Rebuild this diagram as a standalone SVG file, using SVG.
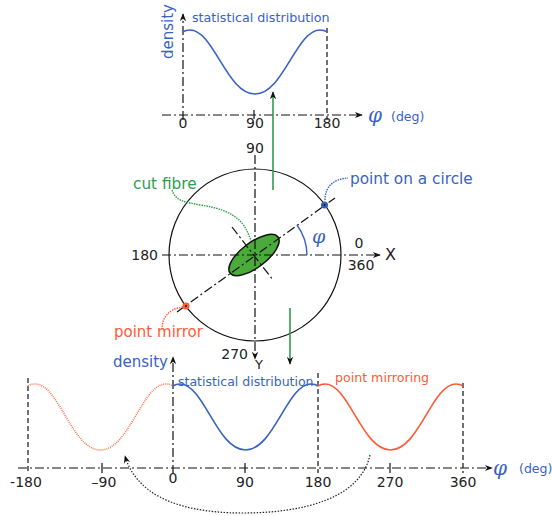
<svg xmlns="http://www.w3.org/2000/svg" width="552" height="516" viewBox="0 0 552 516">
<style>
text{font-family:"DejaVu Sans","Liberation Sans",sans-serif;}
.ax{stroke:#111;stroke-width:1.2;fill:none;stroke-dasharray:9 3 2 3;}
.dash{stroke:#111;stroke-width:1.2;fill:none;stroke-dasharray:5 3;}
.tick{stroke:#111;stroke-width:1.2;}
.lbl{font-size:14px;fill:#222;}
.blue{fill:#3a62c4;}
.red{fill:#ff5a36;}
.green{fill:#2e9e4e;}
.phi{font-family:"DejaVu Serif",serif;font-style:italic;fill:#3a62c4;}
.cb{stroke:#3a62c4;stroke-width:1.6;fill:none;}
.cr{stroke:#ff5a36;stroke-width:1.6;fill:none;}
.cd{stroke:#ff7a56;stroke-width:1.6;fill:none;stroke-dasharray:1 1;}
</style>
<defs>
<marker id="ah" viewBox="0 0 10 10" refX="9" refY="5" markerWidth="8" markerHeight="8" orient="auto" markerUnits="userSpaceOnUse">
<path d="M0,1 L10,5 L0,9 L3,5 Z" fill="#111"/>
</marker>
<path id="wave" d="M0,2 C2,0.5 4,0 7,0 C31,0 44,66 72.5,66 C101,66 114,0 138,0 C141,0 143,0.5 145,2"/>
</defs>

<g id="top-chart">
<line class="ax" x1="162" y1="115" x2="362" y2="115" marker-end="url(#ah)"/>
<line class="ax" x1="183" y1="120" x2="183" y2="14" marker-end="url(#ah)"/>
<line class="dash" x1="327" y1="28" x2="327" y2="120"/>
<line class="tick" x1="254" y1="110" x2="254" y2="119"/>
<use href="#wave" class="cb" transform="translate(183,30) scale(0.993,0.97)"/>
<text x="192" y="22" class="blue" font-size="12.7">statistical distribution</text>
<text transform="translate(173,59) rotate(-90)" class="blue" font-size="15">density</text>
<text x="368" y="122" class="phi" font-size="20">φ</text>
<text x="391" y="121" class="blue" font-size="12.5">(deg)</text>
<text x="183" y="128" class="lbl" text-anchor="middle">0</text>
<text x="255" y="128" class="lbl" text-anchor="middle">90</text>
<text x="327" y="128" class="lbl" text-anchor="middle">180</text>
</g>

<g id="circle">
<circle cx="255" cy="255" r="86" fill="none" stroke="#111" stroke-width="1.2"/>
<ellipse cx="254" cy="255" rx="30" ry="12.5" transform="rotate(-37 254 255)" fill="#4aaa3a" stroke="#111" stroke-width="1.5"/>
<line class="ax" x1="162" y1="255" x2="380" y2="255" marker-end="url(#ah)"/>
<line class="ax" x1="255" y1="155" x2="255" y2="359" marker-end="url(#ah)"/>
<line class="ax" x1="177" y1="312" x2="335" y2="198"/>
<line class="ax" x1="232" y1="227" x2="273" y2="280"/>
<path d="M307,255 A52,52 0 0 0 297,225" stroke="#3a62c4" stroke-width="1.4" fill="none"/>
<text x="312" y="243" class="phi" font-size="19">φ</text>
<text x="255" y="153" class="lbl" text-anchor="middle">90</text>
<text x="158" y="260" class="lbl" text-anchor="end">180</text>
<text x="359" y="248" class="lbl" text-anchor="middle">0</text>
<text x="361" y="270" class="lbl" text-anchor="middle">360</text>
<text x="385" y="260" font-size="16" fill="#222">X</text>
<text x="248" y="359" class="lbl" text-anchor="end">270</text>
<text x="255" y="369" font-size="13" fill="#222">Y</text>
</g>

<g id="point-on-circle">
<circle cx="324.5" cy="205" r="3.5" fill="#2f5fc0"/>
<circle cx="324.5" cy="205" r="0.9" fill="#111"/>
<path d="M325,200 C325,188 332,179 348,178" stroke="#3a62c4" stroke-width="1.4" fill="none" stroke-dasharray="1.5 1"/>
<text x="350" y="184" class="blue" font-size="15.3">point on a circle</text>
</g>

<g id="point-mirror">
<circle cx="186" cy="306" r="3.5" fill="#ff5a36"/>
<circle cx="186" cy="306" r="0.9" fill="#111"/>
<path d="M183,307 C168,309 162,318 162,329" stroke="#ff5a36" stroke-width="1.4" fill="none" stroke-dasharray="1.5 1"/>
<text x="114" y="337" class="red" font-size="15">point mirror</text>
</g>

<g id="cut-fibre">
<path d="M172,190 C176,202 186,202 200,205 C235,210 245,222 251,241" stroke="#2e9e4e" stroke-width="1.4" fill="none" stroke-dasharray="1.5 1"/>
<text x="133" y="189" class="green" font-size="15.3">cut fibre</text>
</g>

<g id="bottom-chart">
<line class="ax" x1="18" y1="468" x2="492" y2="468" marker-end="url(#ah)"/>
<line class="ax" x1="173" y1="474" x2="173" y2="357" marker-end="url(#ah)"/>
<line class="dash" x1="28" y1="378" x2="28" y2="473"/>
<line class="dash" x1="318" y1="373" x2="318" y2="473"/>
<line class="dash" x1="463" y1="383" x2="463" y2="473"/>
<line class="tick" x1="102" y1="463" x2="102" y2="473"/>
<line class="tick" x1="245" y1="463" x2="245" y2="473"/>
<line class="tick" x1="390" y1="463" x2="390" y2="473"/>
<use href="#wave" class="cd" transform="translate(28,384)"/>
<use href="#wave" class="cb" transform="translate(173,384)"/>
<use href="#wave" class="cr" transform="translate(318,384)"/>
<text x="113" y="367" class="blue" font-size="15">density</text>
<text x="178" y="386" class="blue" font-size="12.5">statistical distribution</text>
<text x="335" y="382" class="red" font-size="12.6">point mirroring</text>
<text x="493" y="475" class="phi" font-size="20">φ</text>
<text x="519" y="473" class="blue" font-size="12.5">(deg)</text>
<text x="26" y="487" class="lbl" text-anchor="middle">-180</text>
<text x="104" y="487" class="lbl" text-anchor="middle">–90</text>
<text x="173" y="483" class="lbl" text-anchor="middle">0</text>
<text x="245" y="487" class="lbl" text-anchor="middle">90</text>
<text x="318" y="487" class="lbl" text-anchor="middle">180</text>
<text x="390" y="487" class="lbl" text-anchor="middle">270</text>
<text x="463" y="487" class="lbl" text-anchor="middle">360</text>
</g>

<g id="connectors">
<line x1="273" y1="190" x2="273" y2="92" stroke="#2e9e4e" stroke-width="1.6" marker-end="url(#ah)"/>
<line x1="290" y1="308" x2="290" y2="364" stroke="#2e9e4e" stroke-width="1.6" marker-end="url(#ah)"/>
<path d="M370,455 C360,500 300,513 243,513 C170,513 135,490 125,456" stroke="#222" stroke-width="1.2" fill="none" stroke-dasharray="1.5 1.5" marker-end="url(#ah)"/>
</g>
</svg>
